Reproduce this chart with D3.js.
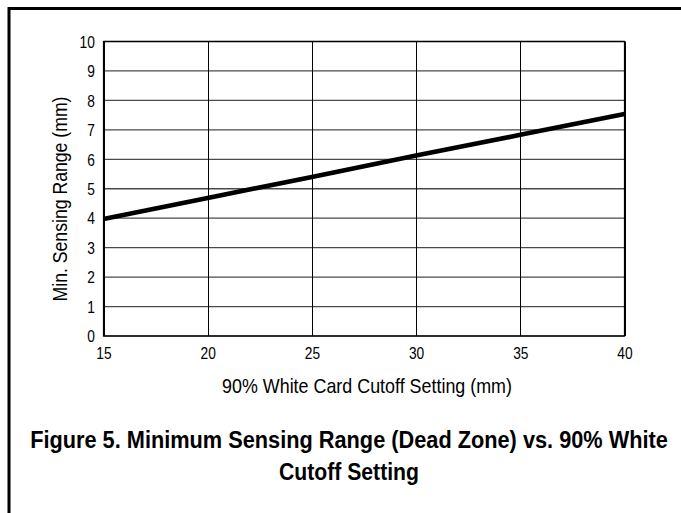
<!DOCTYPE html>
<html>
<head>
<meta charset="utf-8">
<script src="https://cdn.jsdelivr.net/npm/d3@7"></script>
<style>
  html, body { margin: 0; background: #fff; overflow: hidden; }
  svg { display: block; }
  text { font-family: "Liberation Sans", Arial, sans-serif; fill: #000; }
</style>
</head>
<body>
<script>
// values
var cutoff = [15, 20, 25, 30, 35, 40];
var minRange = [3.97, 4.69, 5.40, 6.13, 6.83, 7.54];
var xTicks = [15, 20, 25, 30, 35, 40];
var yTicks = [0, 1, 2, 3, 4, 5, 6, 7, 8, 9, 10];
var xTitle = "90% White Card Cutoff Setting (mm)";
var yTitle = "Min. Sensing Range (mm)";
var captionLines = ["Figure 5. Minimum Sensing Range (Dead Zone) vs. 90% White", "Cutoff Setting"];

var width = 681, height = 513,
    plotLeft = 103.5, plotRight = 624.5, plotTop = 41.5, plotBottom = 336;

var svg = d3.select("body").append("svg")
    .attr("width", width)
    .attr("height", height);

// frame round the figure: only its top and left edges are in view
svg.append("path")
    .attr("d", "M9," + height + "V8.5H" + width)
    .attr("fill", "none").attr("stroke", "#000").attr("stroke-width", 3);

var x = d3.scaleLinear().domain([15, 40]).range([plotLeft, plotRight]);
var y = d3.scaleLinear().domain([0, 10]).range([plotBottom, plotTop]);

// horizontal grid
svg.append("g").selectAll("line")
    .data(yTicks)
    .join("line")
    .attr("x1", plotLeft).attr("x2", plotRight)
    .attr("y1", function(d){ return y(d); })
    .attr("y2", function(d){ return y(d); })
    .attr("stroke", "#4a4a4a").attr("stroke-width", 1.3);

// vertical grid
svg.append("g").selectAll("line")
    .data(xTicks)
    .join("line")
    .attr("x1", function(d){ return Math.round(x(d)) + 0.5; })
    .attr("x2", function(d){ return Math.round(x(d)) + 0.5; })
    .attr("y1", plotTop).attr("y2", plotBottom)
    .attr("stroke", "#000").attr("stroke-width", 1);

svg.append("rect")
    .attr("x", plotLeft).attr("y", plotTop)
    .attr("width", plotRight - plotLeft).attr("height", plotBottom - plotTop)
    .attr("fill", "none").attr("stroke", "#000").attr("stroke-width", 1.2);

// axes, tick text only
var xAxis = svg.append("g")
    .attr("transform", "translate(0," + plotBottom + ")")
    .call(d3.axisBottom(x).tickValues(xTicks).tickSize(0).tickPadding(0));
xAxis.select(".domain").remove();
xAxis.selectAll("text")
    .attr("y", 23).attr("dy", 0)
    .attr("transform", "scale(0.86,1)")
    .style("font-size", "16px").style("font-family", "Liberation Sans, Arial, sans-serif");

var yAxis = svg.append("g")
    .attr("transform", "translate(" + plotLeft + ",0)")
    .call(d3.axisLeft(y).tickValues(yTicks).tickSize(0).tickPadding(0));
yAxis.select(".domain").remove();
yAxis.selectAll("text")
    .attr("x", -10).attr("dy", "0.36em")
    .attr("transform", "scale(0.86,1)")
    .style("font-size", "16px").style("font-family", "Liberation Sans, Arial, sans-serif");

// data line
var line = d3.line()
    .x(function(d, i){ return x(cutoff[i]); })
    .y(function(d){ return y(d); });

svg.append("path")
    .datum(minRange)
    .attr("d", line)
    .attr("fill", "none")
    .attr("stroke", "#000")
    .attr("stroke-width", 4.6);

// condensed text: squeeze horizontally to the width seen in the figure
function squeezed(g, str, size, weight, targetWidth, rotate) {
    var t = g.append("text")
        .attr("text-anchor", "middle")
        .style("font-size", size + "px")
        .style("font-weight", weight)
        .text(str);
    var k = targetWidth / t.node().getComputedTextLength();
    t.attr("transform", (rotate ? "rotate(-90) " : "") + "scale(" + k + ",1)");
    return t;
}

squeezed(svg.append("g").attr("transform", "translate(367,393)"),
    xTitle, 20, "normal", 290, false);

squeezed(svg.append("g").attr("transform", "translate(67,199)"),
    yTitle, 20, "normal", 205, true);

// caption
var capWidths = [638, 140];
captionLines.forEach(function(d, i){
    squeezed(svg.append("g").attr("transform", "translate(349," + (448 + i * 32) + ")"),
        d, 24, "bold", capWidths[i], false);
});
</script>
</body>
</html>
